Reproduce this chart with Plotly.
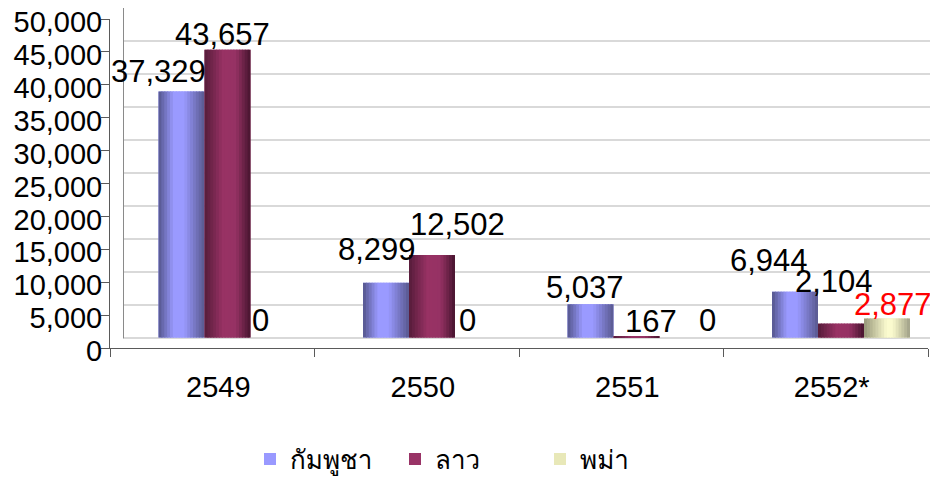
import plotly.graph_objects as go

# ---- data ----
categories = ["2549", "2550", "2551", "2552*"]
series_names = ["กัมพูชา", "ลาว", "พม่า"]
cambodia = [37329, 8299, 5037, 6944]
laos = [43657, 12502, 167, 2104]
myanmar = [0, 0, 0, 2877]
y_ticks = [0, 5000, 10000, 15000, 20000, 25000, 30000, 35000, 40000, 45000, 50000]

series_values = [cambodia, laos, myanmar]

# ---- styles ----
gradients = [
    [(0.0, (84, 86, 140)), (0.33, (154, 154, 255)), (0.55, (154, 154, 255)), (1.0, (88, 88, 142))],
    [(0.0, (86, 28, 58)), (0.40, (152, 50, 100)), (0.68, (150, 50, 100)), (1.0, (70, 20, 46))],
    [(0.0, (150, 150, 120)), (0.50, (252, 252, 208)), (0.62, (250, 250, 205)), (1.0, (160, 160, 135))],
]
legend_colors = ["#9999ff", "#993366", "#e8e8b8"]
label_colors = [["black"] * 4, ["black"] * 4, ["black", "black", "black", "#ff0000"]]
label_dx = [[-23.5, -9, -5.5, -26], [-5.5, 25, 14.5, -7], [-13.5, -11, 24.5, 6]]
label_gap = [[8, 21, 4, 19], [3, 18, 2, 30], [5, 5, 5, 2]]

FONT = "Liberation Sans, Arial, sans-serif"
THAI_FONT = "Tahoma, Loma, Garuda, Noto Sans Thai, Noto Sans, DejaVu Sans, sans-serif"

OFF = 8               # page body margin offset
W, H = 938 - OFF, 480 - OFF
ML, MR, MT = 110 - OFF, 0, 8 - OFF
MB = H - (348 - OFF)
PW = W - ML - MR      # 828
PH = H - MT - MB      # 340

bw = 46 / 204.5       # bar width in category units
nstrip = 16


def lerp_color(stops, t):
    for (p0, c0), (p1, c1) in zip(stops[:-1], stops[1:]):
        if p0 <= t <= p1:
            f = 0 if p1 == p0 else (t - p0) / (p1 - p0)
            c = [round(a + (b - a) * f) for a, b in zip(c0, c1)]
            return "rgb({},{},{})".format(*c)
    c = stops[-1][1]
    return "rgb({},{},{})".format(*c)


fig = go.Figure()

# invisible trace so the front (labelled) axes are drawn
fig.add_trace(go.Scatter(x=categories, y=[None] * len(categories), xaxis="x", yaxis="y",
                         mode="markers", showlegend=False, hoverinfo="skip"))

for k, (name, vals) in enumerate(zip(series_names, series_values)):
    off0 = (k - 1.5) * bw
    fig.add_trace(go.Bar(
        x=categories, y=vals, name=name, xaxis="x2", yaxis="y2",
        width=bw, offset=off0, marker=dict(color=legend_colors[k], line=dict(width=0)),
        hoverinfo="skip", showlegend=True, legendgroup=name,
    ))
    step = bw / nstrip
    for j in range(nstrip):
        t = (j + 0.5) / nstrip
        wdt = min(step * 1.4, bw - j * step)
        fig.add_trace(go.Bar(
            x=categories, y=vals, xaxis="x2", yaxis="y2",
            width=wdt, offset=off0 + j * step,
            marker=dict(color=lerp_color(gradients[k], t), line=dict(width=0)),
            hoverinfo="skip", showlegend=False, legendgroup=name,
        ))

annotations = []
for k, vals in enumerate(series_values):
    for i, v in enumerate(vals):
        annotations.append(dict(
            x=i + (k - 1) * bw, y=v, xref="x2", yref="y2",
            text=f"{v:,}", showarrow=False, xanchor="center", yanchor="bottom",
            xshift=label_dx[k][i], yshift=label_gap[k][i] - 7,
            font=dict(family=FONT, size=31, color=label_colors[k][i]),
        ))

y2_low = -50000 * 10.5 / (PH - 10.5)
x2_lo = (124 - 227.5) / 204.5
x2_hi = (938 - 227.5) / 204.5

fig.update_layout(
    width=W, height=H,
    margin=dict(l=ML, r=MR, t=MT, b=MB, pad=0, autoexpand=False),
    paper_bgcolor="white", plot_bgcolor="white",
    barmode="overlay",
    showlegend=True,
    legend=dict(
        orientation="h", xref="container", yref="container",
        x=(250 - OFF) / W, xanchor="left", y=1 - (459 - OFF) / H, yanchor="middle",
        font=dict(family=THAI_FONT, size=26, color="black"),
        entrywidth=100, entrywidthmode="pixels", itemwidth=30,
        bgcolor="rgba(0,0,0,0)", traceorder="normal",
    ),
    xaxis=dict(
        type="category", categoryarray=categories, categoryorder="array",
        range=[-0.5, 3.5], domain=[0, 818 / PW], anchor="y",
        showline=True, linecolor="#5a5a5a", linewidth=1,
        ticks="outside", ticklen=8, tickcolor="#5a5a5a", tickson="boundaries",
        showgrid=False, zeroline=False, fixedrange=True,
        tickfont=dict(family=FONT, size=29, color="black"),
        ticklabelshift=6, ticklabelstandoff=13,
    ),
    yaxis=dict(
        range=[0, 50000], domain=[0, 329 / PH], anchor="x",
        tickvals=y_ticks, tickformat=",d",
        showline=True, linecolor="#5a5a5a", linewidth=1,
        ticks="outside", ticklen=8, tickcolor="#5a5a5a",
        showgrid=False, zeroline=False, fixedrange=True,
        tickfont=dict(family=FONT, size=29, color="black"),
        ticklabelstandoff=-7, ticklabeloverflow="allow", ticklabelshift=3,
    ),
    xaxis2=dict(
        type="category", categoryarray=categories, categoryorder="array",
        range=[x2_lo, x2_hi], domain=[14 / PW, 1], anchor="y2",
        visible=False, showgrid=False, zeroline=False,
    ),
    yaxis2=dict(
        range=[y2_low, 50000], domain=[0, 1], anchor="x2",
        tickvals=y_ticks, showticklabels=False, ticks="",
        showline=False, showgrid=True, gridcolor="#d9d9d9", gridwidth=1.5,
        zeroline=False,
    ),
    annotations=annotations,
    shapes=[dict(
        type="rect", xref="x2 domain", yref="y2", x0=0, x1=(935 - 124) / (938 - 124),
        y0=0, y1=50000, line=dict(color="#8a8a8a", width=2), layer="below",
    )],
)

fig.write_html("out.html")
